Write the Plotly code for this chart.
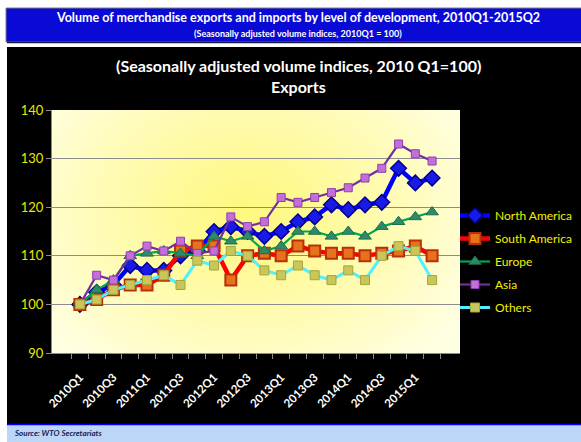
import base64
import struct
import zlib

import numpy as np
import plotly.graph_objects as go

# Quarterly export volume indices, 2010Q1 = 100
quarters = [f"{y}Q{q}" for y in range(2010, 2016) for q in range(1, 5)][:22]
north_america = [100, 102.5, 104, 108, 107, 107, 110, 111, 115, 116, 115, 114,
                 115, 117, 118, 120.5, 119.5, 120.5, 121, 128, 125, 126]
south_america = [100, 101, 103, 104, 104, 106, 111, 112, 112, 105, 110, 110.5,
                 110, 112, 111, 110.5, 110.5, 110, 110.5, 111, 112, 110]
europe = [100, 103, 105, 110, 110.5, 111, 110.5, 110, 114, 113, 114, 111,
          112, 115, 115, 114, 115, 114, 116, 117, 118, 119]
asia = [100, 106, 105, 110, 112, 111, 113, 110.5, 111, 118, 116, 117,
        122, 121, 122, 123, 124, 126, 128, 133, 131, 129.5]
others = [100, 101, 103, 104, 105, 106, 104, 109, 108, 111, 110, 107,
          106, 108, 106, 105, 107, 105, 110, 112, 111, 105]

# Only every other quarter gets a visible label
tick_text = [f"<b>{q}</b>" if i % 2 == 0 else "" for i, q in enumerate(quarters)]

W, H = 581, 442
L, R, T, B = 52, 460, 110, 353  # plot area in pixels


def px(x):
    return (x - L) / (R - L)


def py(y):
    return (B - y) / (B - T)


def png_uri(rgb):
    h, w, _ = rgb.shape
    raw = b"".join(b"\x00" + rgb[r].tobytes() for r in range(h))

    def chunk(tag, data):
        return (struct.pack(">I", len(data)) + tag + data
                + struct.pack(">I", zlib.crc32(tag + data) & 0xFFFFFFFF))

    png = (b"\x89PNG\r\n\x1a\n"
           + chunk(b"IHDR", struct.pack(">IIBBBBB", w, h, 8, 2, 0, 0, 0))
           + chunk(b"IDAT", zlib.compress(raw, 9))
           + chunk(b"IEND", b""))
    return "data:image/png;base64," + base64.b64encode(png).decode()


# Soft yellow radial fill for the plotting area
gw, gh = 204, 122
gx, gy = np.meshgrid(np.linspace(0, 1, gw), np.linspace(0, 1, gh))
d = np.sqrt(((gx - 0.48) / 0.62) ** 2 + ((gy - 0.42) / 0.8) ** 2)
t = np.clip(d, 0, 1)[..., None] ** 1.1
inner = np.array([255, 248, 128], float)
outer = np.array([255, 255, 226], float)
grad = (inner * (1 - t) + outer * t).astype(np.uint8)

fig = go.Figure()

series = [
    ("North America", north_america, "#0000FF", 4.5,
     dict(symbol="diamond", size=12, color="#1A1AE6", line=dict(color="#00008B", width=1.5))),
    ("South America", south_america, "#FF0000", 4.5,
     dict(symbol="square", size=11, color="#E8721C", line=dict(color="#B8300A", width=2))),
    ("Europe", europe, "#00A550", 2.2,
     dict(symbol="triangle-up", size=11, color="#2E8B6A", line=dict(color="#1F6B4A", width=1))),
    ("Asia", asia, "#7030A0", 2.2,
     dict(symbol="square", size=8, color="#C46ED8", line=dict(color="#8E3FB0", width=1))),
    ("Others", others, "#4FF0FF", 3,
     dict(symbol="square", size=9, color="#C9C65A", line=dict(color="#A6A43C", width=1))),
]

for name, vals, color, width, marker in series:
    fig.add_trace(go.Scatter(
        x=quarters, y=vals, name=name, legendgroup=name, mode="lines+markers",
        line=dict(color=color, width=width), marker=marker,
    ))

shapes = [
    # white page margin above and left of the chart
    dict(type="rect", xref="paper", yref="paper", x0=px(0), x1=px(W), y0=py(0), y1=py(47),
         fillcolor="white", line=dict(width=0), layer="below"),
    dict(type="rect", xref="paper", yref="paper", x0=px(0), x1=px(7), y0=py(0), y1=py(H),
         fillcolor="white", line=dict(width=0), layer="below"),
    # title banner
    dict(type="rect", xref="paper", yref="paper", x0=px(6), x1=px(W + 2), y0=py(8), y1=py(42),
         fillcolor="#0A0AD6", line=dict(color="#7F7F7F", width=1), layer="below"),
    dict(type="line", xref="paper", yref="paper", x0=px(7), x1=px(W), y0=py(42.5), y1=py(42.5),
         line=dict(color="#1A1A40", width=1.5), layer="below"),
    # source banner
    dict(type="rect", xref="paper", yref="paper", x0=px(7), x1=px(W + 2), y0=py(424), y1=py(H + 2),
         fillcolor="#BCD6F8", line=dict(width=0), layer="below"),
    dict(type="line", xref="paper", yref="paper", x0=px(7), x1=px(W), y0=py(424.5), y1=py(424.5),
         line=dict(color="#0000FF", width=1.5), layer="below"),
]

annotations = [
    dict(text="<b>Volume of merchandise exports and imports by level of development, 2010Q1-2015Q2</b>",
         x=px(298), y=py(18), font=dict(size=12.5, color="white")),
    dict(text="<b>(Seasonally adjusted volume indices, 2010Q1 = 100)</b>",
         x=px(298), y=py(33), font=dict(size=9, color="white")),
    dict(text="<b>(Seasonally adjusted volume indices, 2010 Q1=100)</b>",
         x=px(298), y=py(65), font=dict(size=16, color="white")),
    dict(text="<b>Exports</b>",
         x=px(298), y=py(86), font=dict(size=16, color="white")),
    dict(text="<b><i>Source: WTO Secretariats</i></b>", x=px(12), y=py(433),
         xanchor="left", font=dict(size=8, color="#1A1A50")),
]
for a in annotations:
    a.update(xref="paper", yref="paper", showarrow=False)
    a.setdefault("xanchor", "center")
    a["yanchor"] = "middle"

fig.update_layout(
    width=W, height=H,
    margin=dict(l=L, r=W - R, t=T, b=H - B, pad=0, autoexpand=False),
    paper_bgcolor="black",
    plot_bgcolor="rgba(0,0,0,0)",
    font=dict(family="Lato, Open Sans, sans-serif"),
    shapes=shapes,
    annotations=annotations,
    images=[dict(source=png_uri(grad), xref="paper", yref="paper", x=0, y=1,
                 sizex=1, sizey=1, sizing="stretch", layer="below",
                 xanchor="left", yanchor="top")],
    showlegend=True,
    legend=dict(x=px(455), y=py(201), xanchor="left", yanchor="top",
                bgcolor="rgba(0,0,0,0)", font=dict(size=12, color="#F2F200"),
                tracegroupgap=4, itemwidth=30),
    xaxis=dict(
        type="category", categoryorder="array", categoryarray=quarters,
        tickmode="array", tickvals=quarters, ticktext=tick_text,
        tickson="boundaries", ticks="outside", ticklen=5, tickcolor="#8C8C8C",
        tickangle=-45, tickfont=dict(size=11.5, color="white", family="Lato"),
        ticklabelstandoff=12,
        showline=True, linecolor="#8C8C8C", linewidth=1.2,
        showgrid=False, zeroline=False, automargin=False,
    ),
    yaxis=dict(
        range=[90, 140], dtick=10, tick0=90,
        ticks="outside", ticklen=5, tickcolor="#8C8C8C",
        tickfont=dict(size=13, color="#E8E800"),
        showline=True, linecolor="#8C8C8C", linewidth=1.2,
        gridcolor="#8C8C8C", gridwidth=1.2, zeroline=False, automargin=False,
    ),
)

fig.write_html("out.html")
